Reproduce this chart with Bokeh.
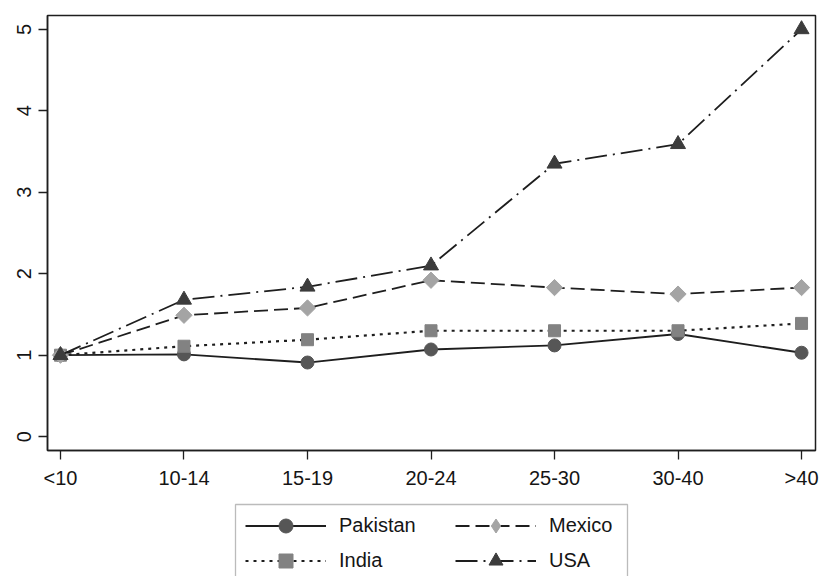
import numpy as np
from bokeh.plotting import figure
from bokeh.models import Legend, LegendItem, FixedTicker, Range1d, BoxAnnotation
from bokeh.layouts import column
from bokeh.embed import file_html
from bokeh.resources import INLINE

categories = ["<10", "10-14", "15-19", "20-24", "25-30", "30-40", ">40"]
pakistan = [1.0, 1.01, 0.91, 1.07, 1.12, 1.26, 1.03]
india = [1.0, 1.11, 1.19, 1.30, 1.30, 1.30, 1.39]
mexico = [1.0, 1.49, 1.58, 1.92, 1.83, 1.75, 1.83]
usa = [1.0, 1.68, 1.84, 2.10, 3.35, 3.59, 5.0]
y_ticks = [0, 1, 2, 3, 4, 5]

xs = list(range(len(categories)))
FONT = "Liberation Sans"
INK = "#1e1e1e"
ROT = [np.pi / 4] * len(xs)

styles = {
    "Pakistan": dict(line=dict(line_color=INK, line_width=1.8),
                     mk=dict(marker="circle", size=13, fill_color="#565656", line_color="#565656")),
    "India": dict(line=dict(line_color=INK, line_width=2.2, line_dash="3 5"),
                  mk=dict(marker="square", size=12, fill_color="#828282", line_color="#828282")),
    "Mexico": dict(line=dict(line_color=INK, line_width=1.8, line_dash="14 6"),
                   mk=dict(marker="square", size=11.5, angle=ROT, fill_color="#a4a4a4", line_color="#a4a4a4")),
    "USA": dict(line=dict(line_color=INK, line_width=1.8, line_dash="22 6 2 6"),
                mk=dict(marker="triangle", size=15, fill_color="#3c3c3c", line_color="#3c3c3c")),
}
# legend keys (the legend does not rotate markers, so Mexico uses a diamond there)
legend_mk = {
    "Pakistan": dict(styles["Pakistan"]["mk"]),
    "India": dict(styles["India"]["mk"]),
    "Mexico": dict(marker="diamond", size=19, fill_color="#a4a4a4", line_color="#a4a4a4"),
    "USA": dict(styles["USA"]["mk"]),
}
series = {"Pakistan": pakistan, "India": india, "Mexico": mexico, "USA": usa}

p = figure(width=823, height=500, output_backend="svg", toolbar_location=None,
           x_range=Range1d(-0.105, 6.113), y_range=Range1d(-0.17, 5.17),
           min_border_left=47, min_border_right=8, min_border_top=15, min_border_bottom=50)
p.background_fill_color = "white"
p.border_fill_color = "white"
p.xgrid.visible = False
p.ygrid.visible = False
p.outline_line_color = INK
p.outline_line_width = 1.5

p.xaxis.ticker = FixedTicker(ticks=xs)
p.xaxis.major_label_overrides = {i: c for i, c in enumerate(categories)}
p.yaxis.ticker = FixedTicker(ticks=y_ticks)
p.yaxis.major_label_orientation = "vertical"
for ax in (p.xaxis, p.yaxis):
    ax.major_label_text_font = FONT
    ax.major_label_text_font_size = "20px"
    ax.major_label_text_color = "#151515"
    ax.axis_line_color = INK
    ax.axis_line_width = 1.5
    ax.major_tick_line_color = INK
    ax.major_tick_line_width = 1.3
    ax.major_tick_out = 9
    ax.major_tick_in = 0
    ax.minor_tick_line_color = None
p.xaxis.major_label_standoff = 7
p.yaxis.major_label_standoff = 7

for name in ["Pakistan", "India", "Mexico", "USA"]:
    p.line(xs, series[name], **styles[name]["line"])
    p.scatter(xs, series[name], **styles[name]["mk"])

# legend strip below the chart (its frame is aligned with the chart frame)
FL, FR = 47, 815
q = figure(width=823, height=76, output_backend="svg", toolbar_location=None,
           x_range=Range1d(FL, FR), y_range=Range1d(76, 0),
           min_border_left=FL, min_border_right=823 - FR, min_border_top=0, min_border_bottom=0,
           x_axis_location=None, y_axis_location=None)
q.grid.visible = False
q.outline_line_color = None
q.background_fill_color = "white"
q.border_fill_color = "white"

items = {}
for name in ["Pakistan", "India", "Mexico", "USA"]:
    # legend proxies: same series, lying outside this strip's visible range
    rl = q.line(xs, series[name], **styles[name]["line"])
    rm = q.scatter(xs, series[name], **legend_mk[name])
    items[name] = LegendItem(label=name, renderers=[rl, rm])

def make_legend(names, x0):
    lg = Legend(items=[items[n] for n in names], location=(x0 - FL, -2))
    lg.label_text_font = FONT
    lg.label_text_font_size = "20px"
    lg.label_text_color = "#151515"
    lg.glyph_width = 81
    lg.glyph_height = 35
    lg.label_standoff = 13
    lg.spacing = 0
    lg.padding = 6
    lg.margin = 0
    lg.border_line_color = None
    lg.background_fill_alpha = 0
    return lg

q.add_layout(make_legend(["Pakistan", "India"], 245), "center")
q.add_layout(make_legend(["Mexico", "USA"], 455), "center")
q.add_layout(BoxAnnotation(left=235, right=627, top=4, bottom=95,
                           fill_color=None, line_color=INK, line_width=1.3))

layout = column(p, q, spacing=0)
open("out.html", "w").write(file_html(layout, INLINE))
